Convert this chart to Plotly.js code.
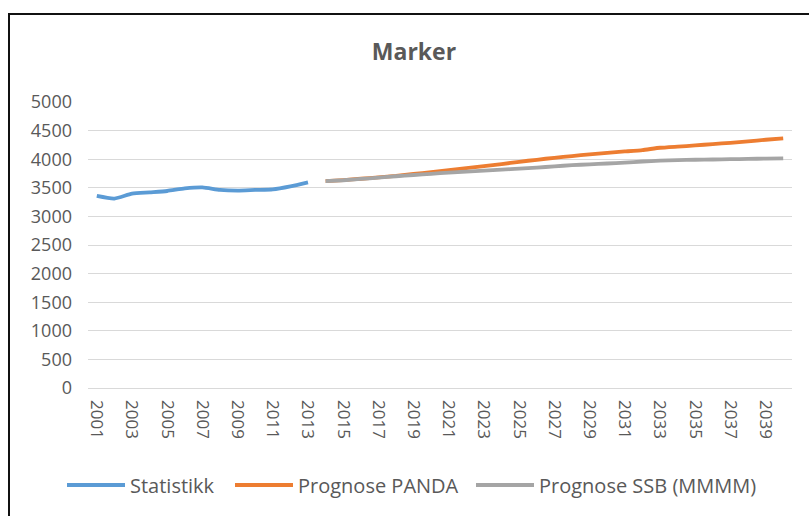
<!DOCTYPE html>
<html>
<head>
<meta charset="utf-8">
<script src="https://cdn.plot.ly/plotly-3.0.1.min.js"></script>
<style>
  html, body { margin: 0; padding: 0; background: #fff; }
  #wrap { position: relative; width: 809px; height: 516px; overflow: hidden; }
  #chart { width: 809px; height: 516px; }
  #frame { position: absolute; left: 8px; top: 13px; width: 900px; height: 600px;
           border-top: 2px solid #111; border-left: 2px solid #111; pointer-events: none; }
</style>
</head>
<body>
<div id="wrap">
  <div id="chart"></div>
  <div id="frame"></div>
</div>
<script>
const statYears = [2001,2002,2003,2004,2005,2006,2007,2008,2009,2010,2011,2012,2013];
const statValues = [3357,3312,3397,3420,3444,3490,3508,3462,3450,3462,3473,3526,3596];

const progYears = [2014,2015,2016,2017,2018,2019,2020,2021,2022,2023,2024,2025,2026,2027,
                   2028,2029,2030,2031,2032,2033,2034,2035,2036,2037,2038,2039,2040];
const pandaValues = [3618,3635,3658,3682,3708,3742,3775,3810,3845,3880,3915,3955,3990,4025,
                     4055,4085,4110,4135,4160,4200,4220,4240,4265,4285,4310,4340,4365];
const ssbValues = [3618,3632,3655,3678,3702,3724,3745,3765,3782,3800,3817,3835,3852,3875,
                   3895,3910,3925,3940,3960,3975,3985,3990,3995,4000,4005,4010,4015];

const xTickYears = [2001,2003,2005,2007,2009,2011,2013,2015,2017,2019,2021,2023,2025,2027,
                    2029,2031,2033,2035,2037,2039];
const yTicks = [0,500,1000,1500,2000,2500,3000,3500,4000,4500,5000];

const FONT = "'Open Sans', 'Noto Sans', sans-serif";
const TXT = '#595959';

const traces = [
  { x: statYears, y: statValues, name: 'Statistikk', type: 'scatter', mode: 'lines',
    legend: 'legend',
    line: { color: '#5B9BD5', width: 3.8, shape: 'spline', smoothing: 0.6 } },
  { x: progYears, y: pandaValues, name: 'Prognose PANDA', type: 'scatter', mode: 'lines',
    legend: 'legend2',
    line: { color: '#ED7D31', width: 3.8, shape: 'spline', smoothing: 0.4 } },
  { x: progYears, y: ssbValues, name: 'Prognose SSB (MMMM)', type: 'scatter', mode: 'lines',
    legend: 'legend3',
    line: { color: '#A5A5A5', width: 3.8, shape: 'spline', smoothing: 0.4 } }
];

function legendAt(px) {
  return {
    orientation: 'h', xref: 'container', yref: 'container',
    x: px / 809, xanchor: 'left', y: 1 - 485/516, yanchor: 'middle',
    font: { family: FONT, size: 20, color: TXT },
    itemwidth: 58, bgcolor: 'rgba(0,0,0,0)', borderwidth: 0
  };
}

const layout = {
  width: 809, height: 516,
  paper_bgcolor: '#ffffff', plot_bgcolor: '#ffffff',
  margin: { l: 88, r: 17, t: 102, b: 128, pad: 0 },
  font: { family: FONT, color: TXT },
  title: { text: 'Marker', x: 414/809, xanchor: 'center', xref: 'container',
           y: 1 - 52/516, yanchor: 'middle', yref: 'container',
           font: { family: FONT, size: 23, color: TXT, weight: 'bold' } },
  xaxis: {
    range: [2000.5, 2040.5], tickmode: 'array', tickvals: xTickYears,
    ticktext: xTickYears.map(String), tickangle: 90,
    showgrid: false, zeroline: false, showline: false, ticks: '',
    ticklabelstandoff: 11,
    tickfont: { family: FONT, size: 17, color: TXT }, fixedrange: true
  },
  yaxis: {
    range: [0, 5000], tickmode: 'array', tickvals: yTicks,
    showgrid: true, gridcolor: '#d9d9d9', gridwidth: 1,
    zeroline: true, zerolinecolor: '#d9d9d9', zerolinewidth: 1,
    showline: false, ticks: '', ticklabelstandoff: 15,
    tickfont: { family: FONT, size: 18, color: TXT }, fixedrange: true
  },
  showlegend: true,
  legend: legendAt(62),
  legend2: legendAt(230),
  legend3: legendAt(471),
  hovermode: false
};

Plotly.newPlot('chart', traces, layout, { staticPlot: true, displayModeBar: false });
</script>
</body>
</html>
